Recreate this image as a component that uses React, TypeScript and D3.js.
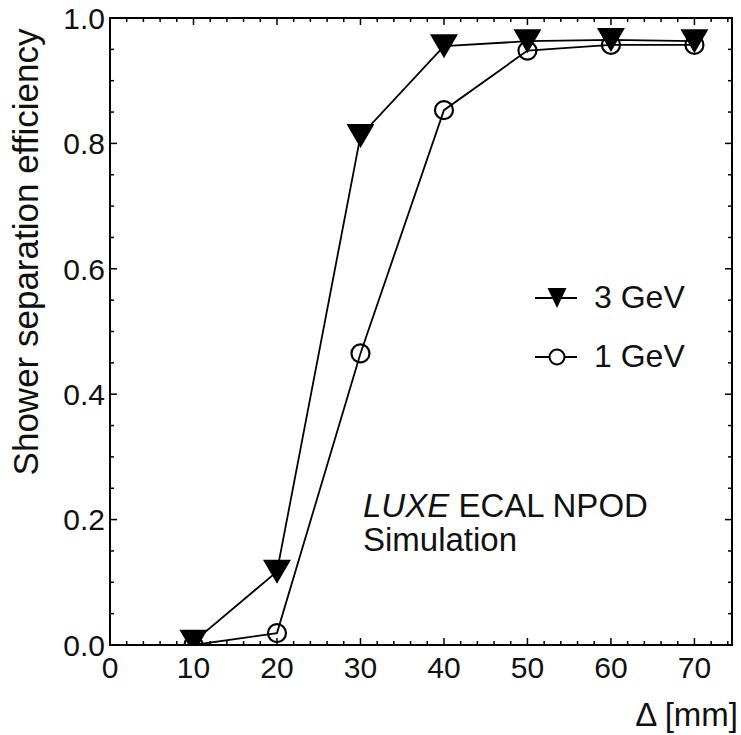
import React from "react";
import * as d3 from "d3";

const distances = [10, 20, 30, 40, 50, 60, 70];
const eff3GeV = [0.005, 0.117, 0.812, 0.955, 0.963, 0.965, 0.963];
const eff1GeV = [0.0, 0.019, 0.465, 0.853, 0.948, 0.957, 0.957];
const xMajorTicks = [0, 10, 20, 30, 40, 50, 60, 70];
const yMajorTicks = [0, 0.2, 0.4, 0.6, 0.8, 1.0];
const legendLabels = ["3 GeV", "1 GeV"];

const W = 741;
const H = 735;
const m = { left: 110, right: 9, top: 18, bottom: 90 };

export default function App() {
  const x = d3.scaleLinear().domain([0, 74.5]).range([m.left, W - m.right]);
  const y = d3.scaleLinear().domain([0, 1]).range([H - m.bottom, m.top]);
  const x0 = x.range()[0], x1 = x.range()[1];
  const y0 = y.range()[0], y1 = y.range()[1];
  const xMinor = d3.range(0, 74.5, 2).filter((v) => v % 10 !== 0);
  const yMinor = d3.range(0, 1.0001, 0.05).filter((v) => Math.abs(v / 0.2 - Math.round(v / 0.2)) > 1e-6);
  const line = d3.line<[number, number]>().x((d) => x(d[0])).y((d) => y(d[1]));
  const d3g = distances.map((d, i) => [d, eff3GeV[i]] as [number, number]);
  const d1g = distances.map((d, i) => [d, eff1GeV[i]] as [number, number]);
  const tri = (cx: number, cy: number, w: number, h: number) =>
    `M${cx - w / 2},${cy - h / 2}L${cx + w / 2},${cy - h / 2}L${cx},${cy + h / 2}Z`;
  const font = "'Liberation Sans', Arial, sans-serif";
  const MAJ = 7, MIN = 4;

  return (
    <svg width={W} height={H} style={{ position: "absolute", left: 0, top: 0, background: "#fff" }} fontFamily={font}>
      <defs>
        <clipPath id="plotClip">
          <rect x={x0} y={y1 - 20} width={x1 - x0} height={y0 - y1 + 20} />
        </clipPath>
      </defs>
      <rect x={0} y={0} width={W} height={H} fill="#fff" />
      {/* ticks */}
      <g stroke="#000" strokeWidth={1.5}>
        {xMajorTicks.map((v) => (
          <g key={"xm" + v}>
            <line x1={x(v)} x2={x(v)} y1={y0} y2={y0 - MAJ} />
            <line x1={x(v)} x2={x(v)} y1={y1} y2={y1 + MAJ} />
          </g>
        ))}
        {xMinor.map((v) => (
          <g key={"xn" + v}>
            <line x1={x(v)} x2={x(v)} y1={y0} y2={y0 - MIN} />
            <line x1={x(v)} x2={x(v)} y1={y1} y2={y1 + MIN} />
          </g>
        ))}
        {yMajorTicks.map((v) => (
          <g key={"ym" + v}>
            <line x1={x0} x2={x0 + MAJ} y1={y(v)} y2={y(v)} />
            <line x1={x1} x2={x1 - MAJ} y1={y(v)} y2={y(v)} />
          </g>
        ))}
        {yMinor.map((v) => (
          <g key={"yn" + v}>
            <line x1={x0} x2={x0 + MIN} y1={y(v)} y2={y(v)} />
            <line x1={x1} x2={x1 - MIN} y1={y(v)} y2={y(v)} />
          </g>
        ))}
      </g>
      {/* tick labels */}
      <g fontSize={30} fill="#111">
        {xMajorTicks.map((v) => (
          <text key={"xl" + v} x={x(v)} y={y0 + 33} textAnchor="middle">{v}</text>
        ))}
        {yMajorTicks.map((v) => (
          <text key={"yl" + v} x={x0 - 5} y={y(v)} dy="0.36em" textAnchor="end">{v.toFixed(1)}</text>
        ))}
      </g>
      <text x={W - 3} y={726} textAnchor="end" fontSize={33} fill="#111">Δ [mm]</text>
      <text transform={`translate(38,252) rotate(-90)`} textAnchor="middle" fontSize={35} fill="#111">
        Shower separation efficiency
      </text>
      {/* series */}
      <g clipPath="url(#plotClip)">
        <path d={line(d3g) || ""} fill="none" stroke="#000" strokeWidth={1.8} />
        <path d={line(d1g) || ""} fill="none" stroke="#000" strokeWidth={1.8} />
        {d1g.map((d, i) => (
          <circle key={"c" + i} cx={x(d[0])} cy={y(d[1])} r={9} fill="none" stroke="#000" strokeWidth={2.2} />
        ))}
        {d3g.map((d, i) => (
          <path key={"t" + i} d={tri(x(d[0]), y(d[1]), 28, 24)} fill="#000" />
        ))}
      </g>
      <rect x={x0} y={y1} width={x1 - x0} height={y0 - y1} fill="none" stroke="#000" strokeWidth={2} />
      {/* legend */}
      <line x1={535} x2={577} y1={298} y2={298} stroke="#000" strokeWidth={1.8} />
      <path d={tri(557, 298, 19, 20)} fill="#000" />
      <text x={594} y={308} fontSize={32} fill="#111">{legendLabels[0]}</text>
      <line x1={535} x2={577} y1={357} y2={357} stroke="#000" strokeWidth={1.8} />
      <circle cx={557} cy={357} r={7.5} fill="#fff" stroke="#000" strokeWidth={2} />
      <text x={594} y={367} fontSize={32} fill="#111">{legendLabels[1]}</text>
      {/* annotation */}
      <text x={363} y={517} fontSize={33} fill="#111">
        <tspan fontStyle="italic">LUXE</tspan> ECAL NPOD
      </text>
      <text x={363} y={551} fontSize={33} fill="#111">Simulation</text>
    </svg>
  );
}
